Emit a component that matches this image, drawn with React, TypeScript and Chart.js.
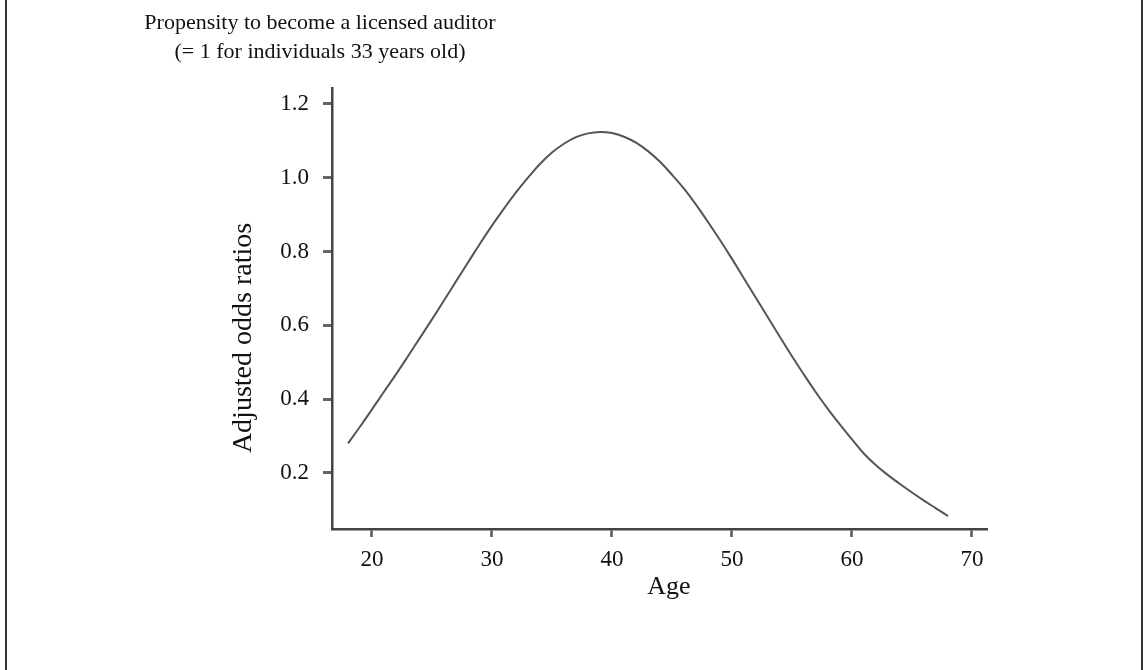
import React, { useEffect, useRef } from "react";
import { Chart, registerables } from "chart.js";

Chart.register(...registerables);

const ages = [18,19,20,21,22,23,24,25,26,27,28,29,30,31,32,33,34,35,36,37,38,39,40,41,42,43,44,45,46,47,48,49,50,51,52,53,54,55,56,57,58,59,60,61,62,63,64,65,66,67,68];
const oddsRatios = [0.28,0.325,0.372,0.42,0.467,0.516,0.566,0.616,0.667,0.719,0.77,0.821,0.87,0.916,0.96,1.0,1.037,1.068,1.092,1.11,1.12,1.124,1.121,1.111,1.095,1.072,1.043,1.008,0.97,0.927,0.88,0.831,0.78,0.727,0.674,0.621,0.568,0.516,0.466,0.418,0.373,0.331,0.291,0.252,0.221,0.194,0.17,0.147,0.125,0.104,0.083];
const xTicks = [20, 30, 40, 50, 60, 70];
const yTicks = [0.2, 0.4, 0.6, 0.8, 1.0, 1.2];
const titleLines = ["Propensity to become a licensed auditor", "(= 1 for individuals 33 years old)"];
const xTitle = "Age";
const yTitle = "Adjusted odds ratios";

const FONT = "'Liberation Serif', 'Times New Roman', serif";

const textPlugin = {
  id: "textPlugin",
  afterDraw(chart: any) {
    const ctx = chart.ctx;
    ctx.save();
    // frame
    ctx.strokeStyle = "#333";
    ctx.lineWidth = 2;
    ctx.beginPath();
    ctx.moveTo(6, 0);
    ctx.lineTo(6, 670);
    ctx.moveTo(1142, 0);
    ctx.lineTo(1142, 670);
    ctx.stroke();
    ctx.fillStyle = "#111";
    ctx.textAlign = "center";
    ctx.textBaseline = "alphabetic";
    ctx.font = `22px ${FONT}`;
    ctx.fillText(titleLines[0], 320, 29);
    ctx.fillText(titleLines[1], 320, 58);
    ctx.font = `26px ${FONT}`;
    ctx.fillText(xTitle, 669, 594);
    ctx.translate(244, 338);
    ctx.rotate(-Math.PI / 2);
    ctx.font = `28px ${FONT}`;
    ctx.textBaseline = "middle";
    ctx.fillText(yTitle, 0, 0);
    ctx.restore();
  },
};

export default function App() {
  const ref = useRef<HTMLCanvasElement | null>(null);
  useEffect(() => {
    if (!ref.current) return;
    const chart = new Chart(ref.current, {
      type: "line",
      data: {
        datasets: [
          {
            data: ages.map((a, i) => ({ x: a, y: oddsRatios[i] })),
            borderColor: "#555",
            borderWidth: 2,
            pointRadius: 0,
            tension: 0.4,
            fill: false,
          },
        ],
      },
      options: {
        responsive: false,
        animation: false,
        layout: { padding: { left: 0, top: 88, right: 159, bottom: 0 } },
        plugins: { legend: { display: false }, tooltip: { enabled: false }, title: { display: false } },
        scales: {
          x: {
            type: "linear",
            min: 16.67,
            max: 71.25,
            afterBuildTicks: (s: any) => {
              s.ticks = xTicks.map((v) => ({ value: v }));
            },
            afterFit: (s: any) => {
              s.height = 141;
            },
            border: { display: true, color: "#444", width: 2.5 },
            grid: { display: true, drawOnChartArea: false, drawTicks: true, tickLength: 8, tickColor: "#555", tickWidth: 2.5 },
            ticks: {
              color: "#111",
              font: { family: FONT, size: 23 },
              padding: 9,
              maxRotation: 0,
              callback: (v: any) => String(v),
            },
          },
          y: {
            type: "linear",
            min: 0.048,
            max: 1.243,
            afterBuildTicks: (s: any) => {
              s.ticks = yTicks.map((v) => ({ value: v }));
            },
            afterFit: (s: any) => {
              s.width = 332;
            },
            border: { display: true, color: "#444", width: 2.5 },
            grid: { display: true, drawOnChartArea: false, drawTicks: true, tickLength: 9, tickColor: "#666", tickWidth: 3 },
            ticks: {
              color: "#111",
              font: { family: FONT, size: 23 },
              padding: 14,
              callback: (v: any) => Number(v).toFixed(1),
            },
          },
        },
      },
      plugins: [textPlugin],
    });
    return () => chart.destroy();
  }, []);
  return (
    <div style={{ position: "fixed", left: 0, top: 0, width: 1146, height: 670, background: "#fff" }}>
      <canvas ref={ref} width={1146} height={670} style={{ display: "block" }} />
    </div>
  );
}
